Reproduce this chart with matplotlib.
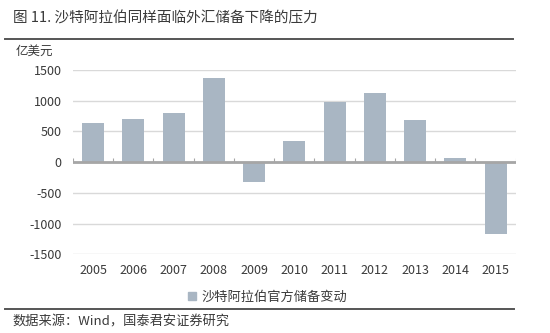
import matplotlib
matplotlib.use("Agg")
import matplotlib.pyplot as plt
from matplotlib.patches import Patch
from matplotlib.lines import Line2D

plt.rcParams['font.family'] = ['Noto Sans CJK SC', 'DejaVu Sans']

years = ["2005", "2006", "2007", "2008", "2009", "2010",
         "2011", "2012", "2013", "2014", "2015"]
reserve_change = [630, 707, 793, 1363, -320, 348, 977, 1124, 690, 60, -1166]
y_ticks = [-1500, -1000, -500, 0, 500, 1000, 1500]

TEXT = "#3a3a3a"
BAR = "#a9b6c3"

fig = plt.figure(figsize=(5.5, 3.33), dpi=100)
ax = fig.add_axes([0.1327, 0.2363, 0.805, 0.5535])

x = list(range(len(years)))
ax.bar(x, reserve_change, width=0.55, color=BAR, zorder=3)

ax.set_xlim(-0.5, len(years) - 0.5)
ax.set_ylim(-1500, 1500)
ax.set_yticks(y_ticks)
ax.set_yticklabels([str(v) for v in y_ticks], fontsize=9, color=TEXT)
ax.set_xticks(x)
ax.set_xticklabels(years, fontsize=9, color=TEXT)
ax.tick_params(length=0, pad=8)
ax.tick_params(axis='x', pad=7)

for s in ax.spines.values():
    s.set_visible(False)
ax.grid(axis='y', color="#d9d9d9", linewidth=1, zorder=0)

# category axis along zero with small tick marks between groups
ax.axhline(0, color="#a6a6a6", linewidth=2, zorder=4)
ax.vlines([i - 0.5 for i in range(len(years) + 1)], 0, 70,
          color="#a6a6a6", linewidth=0.8, zorder=4)

fig.text(0.023, 0.945, "图 11. 沙特阿拉伯同样面临外汇储备下降的压力",
         fontsize=10.5, color=TEXT, va='center')
fig.add_artist(Line2D([0.009, 0.932], [0.882, 0.882], color="#555555", linewidth=1.4))
fig.text(0.029, 0.845, "亿美元", fontsize=9, color=TEXT, va='center')

fig.legend(handles=[Patch(color=BAR, label="沙特阿拉伯官方储备变动")],
           loc='center', bbox_to_anchor=(0.486, 0.108), frameon=False,
           fontsize=9.5, handlelength=0.6, handleheight=0.6, handletextpad=0.4,
           labelcolor=TEXT)
fig.add_artist(Line2D([0.009, 0.935], [0.073, 0.073], color="#555555", linewidth=1.4))
fig.text(0.022, 0.032, "数据来源：Wind，国泰君安证券研究",
         fontsize=9.5, color=TEXT, va='center')

fig.savefig("out.png", dpi=100, facecolor="white")
